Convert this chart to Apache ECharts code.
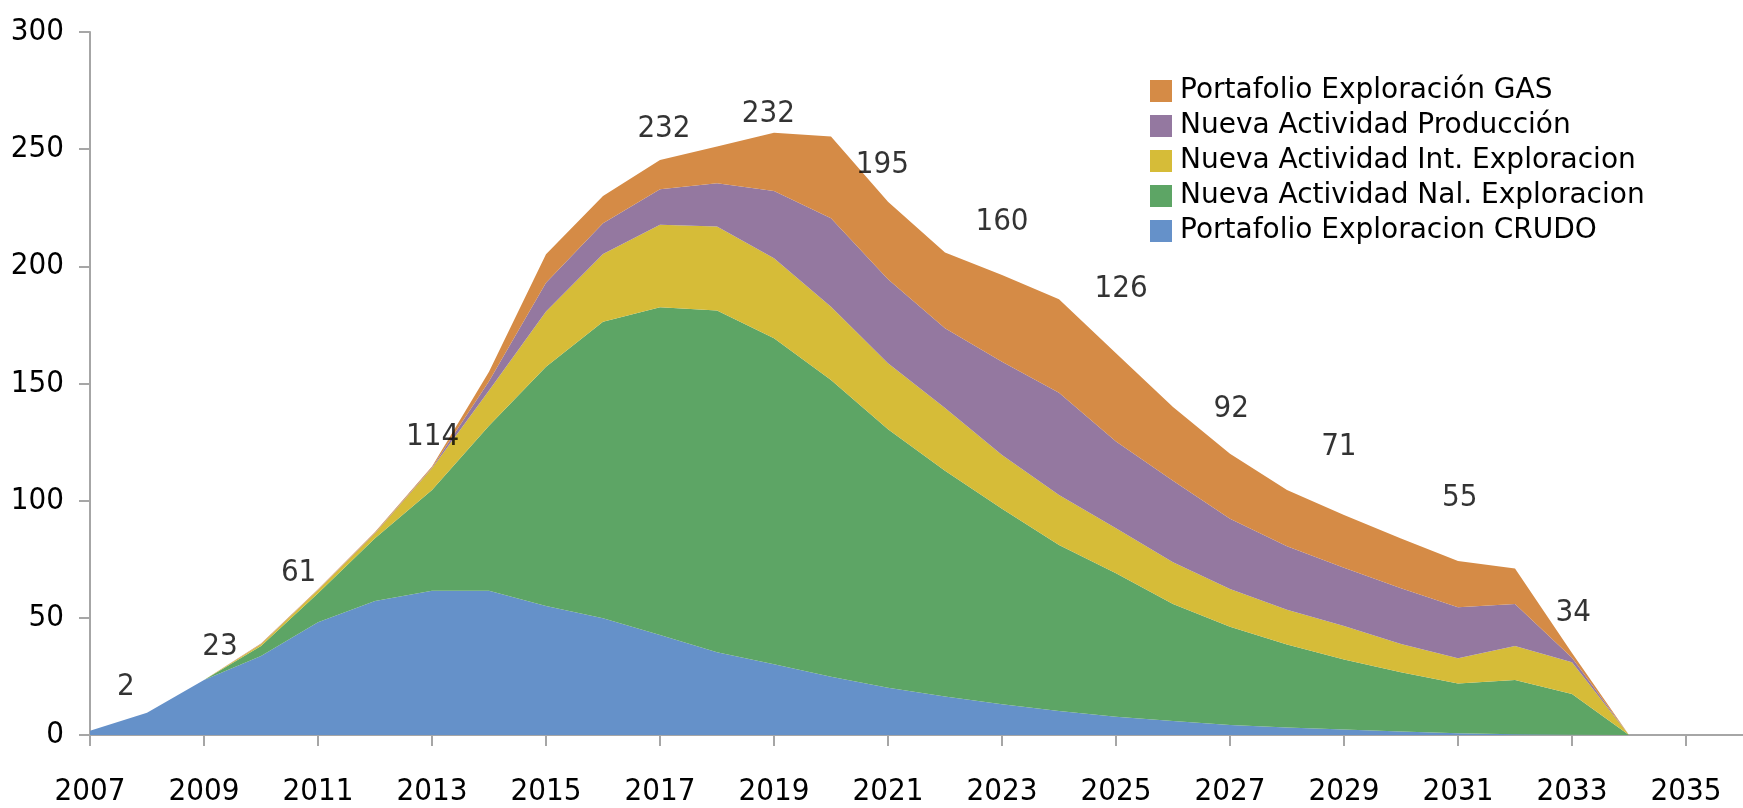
<!DOCTYPE html>
<html>
<head>
<meta charset="utf-8">
<script src="https://cdn.jsdelivr.net/npm/echarts@6/dist/echarts.min.js"></script>
<style>
  html, body { margin: 0; padding: 0; background: #fff; }
  #main { width: 1743px; height: 808px; }
</style>
</head>
<body>
<div id="main"></div>
<script>
// axis runs one year past the last labelled tick (2035), cut by the picture edge
var axisYears = ['2007', '2008', '2009', '2010', '2011', '2012', '2013', '2014', '2015', '2016',
  '2017', '2018', '2019', '2020', '2021', '2022', '2023', '2024', '2025', '2026', '2027', '2028',
  '2029', '2030', '2031', '2032', '2033', '2034', '2035', '2036']

// values for 2007..2034, stacked from bottom to top
var crudo = [1.8, 9.5, 23.5, 33.7, 48.1, 57.2, 61.6, 61.6, 55.1, 49.8, 42.7, 35.3, 30.2, 24.9,
  20.2, 16.4, 13.1, 10.2, 7.8, 6.0, 4.3, 3.2, 2.3, 1.5, 0.8, 0.3, 0.1, 0]
var nalExpl = [0, 0, 0, 4.3, 12.4, 26.8, 42.9, 70.4, 102.1, 126.6, 139.8, 145.8, 139.1, 126.6,
  110.3, 96.4, 83.4, 70.9, 61.2, 49.9, 41.9, 35.4, 29.9, 25.3, 21.2, 23.2, 17.4, 0]
var intExpl = [0, 0, 0, 0.7, 1.4, 2.1, 9.3, 15, 23.5, 28.9, 35.2, 35.9, 34.2, 31.3,
  28.1, 26.7, 23, 21.3, 19.2, 17.8, 16.1, 14.9, 14.3, 12, 10.7, 14.5, 13.5, 0]
var produccion = [0, 0, 0, 0.1, 0.1, 0.2, 0.4, 4, 12.3, 13.1, 15.2, 18.5, 28.7, 37.7,
  35.9, 34.1, 39.8, 43.6, 37, 34.8, 30, 27.1, 24.9, 23.8, 21.8, 17.9, 2, 0]
var gas = [0, 0, 0, 0.2, 0.2, 0.3, 0.4, 4, 12.2, 11.6, 12.5, 15.6, 24.8, 34.9,
  33.1, 32.3, 37, 40, 37.7, 31.5, 27.7, 23.9, 22.5, 21.3, 19.8, 15.2, 2, 0]

var seriesNames = ['Portafolio Exploracion CRUDO', 'Nueva Actividad Nal. Exploracion',
  'Nueva Actividad Int. Exploracion', 'Nueva Actividad Producción', 'Portafolio Exploración GAS']
var seriesColors = ['#6591C9', '#5DA565', '#D6BC38', '#9478A0', '#D58B46']

// the number callouts placed over the chart (year, height)
var calloutText = [2, 23, 61, 114, 232, 232, 195, 160, 126, 92, 71, 55, 34]
var calloutX = [2007.63, 2009.28, 2010.66, 2013.01, 2017.07, 2018.9, 2020.9, 2023.0, 2025.09, 2027.02, 2028.91, 2031.03, 2033.02]
var calloutY = [21.9, 39, 70.3, 128.6, 260, 266.4, 244.7, 220.3, 191.6, 140.3, 124.3, 102.3, 53.5]

var numFont = '"Liberation Sans Narrow", "DejaVu Sans Condensed", sans-serif'

var chartDom = document.getElementById('main')
var myChart = echarts.init(chartDom)

var stackData = [crudo, nalExpl, intExpl, produccion, gas]
var series = stackData.map(function (vals, i) {
  return {
    name: seriesNames[i],
    type: 'line',
    stack: 'total',
    xAxisIndex: 0,
    symbol: 'none',
    lineStyle: { width: 0 },
    areaStyle: { color: seriesColors[i], opacity: 1 },
    itemStyle: { color: seriesColors[i] },
    data: vals,
    z: 2
  }
})

series.push({
  type: 'scatter',
  xAxisIndex: 1,
  silent: true,
  symbolSize: 1,
  itemStyle: { color: 'rgba(0,0,0,0)' },
  label: {
    show: true,
    position: 'inside',
    offset: [0, 3],
    fontFamily: numFont,
    fontSize: 31,
    color: '#000',
    formatter: function (p) { return calloutText[p.dataIndex] }
  },
  data: calloutX.map(function (x, i) { return [x, calloutY[i]] }),
  z: 5
})

var option = {
  animation: false,
  grid: { left: 90, top: 32, width: 1663, bottom: 73, containLabel: false },
  legend: {
    orient: 'vertical',
    left: 1145,
    top: 72,
    itemWidth: 22,
    itemHeight: 22,
    itemGap: 7,
    icon: 'rect',
    data: seriesNames.slice().reverse(),
    textStyle: {
      fontFamily: 'DejaVu Sans',
      fontSize: 28,
      color: '#000',
      padding: [0, 0, 0, 3]
    }
  },
  xAxis: [{
    type: 'category',
    data: axisYears,
    boundaryGap: false,
    splitLine: { show: false },
    axisLine: { onZero: true, lineStyle: { color: '#A6A6A6', width: 2 } },
    axisTick: { interval: 1, length: 11, lineStyle: { color: '#A6A6A6', width: 2 } },
    axisLabel: {
      interval: 1,
      margin: 41,
      fontFamily: numFont,
      fontSize: 31,
      color: '#000'
    }
  }, {
    type: 'value',
    min: 2007,
    max: 2036,
    show: false
  }],
  yAxis: {
    type: 'value',
    min: 0,
    max: 300,
    interval: 50,
    splitLine: { show: false },
    axisLine: { show: true, lineStyle: { color: '#A6A6A6', width: 2 } },
    axisTick: { show: true, length: 11, lineStyle: { color: '#A6A6A6', width: 2 } },
    axisLabel: {
      margin: 26,
      fontFamily: numFont,
      fontSize: 31,
      color: '#000'
    }
  },
  series: series
}

option && myChart.setOption(option)
</script>
</body>
</html>
